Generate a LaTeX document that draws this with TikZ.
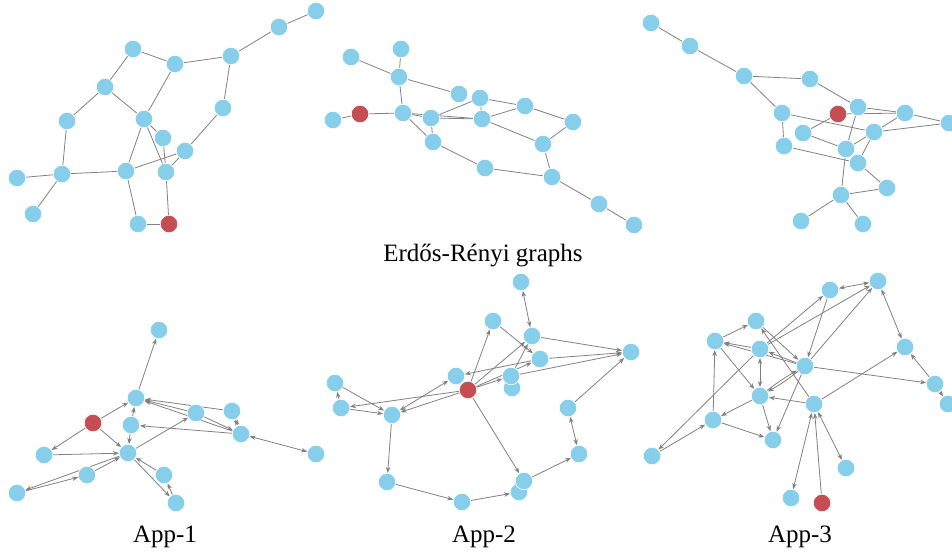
\documentclass[tikz,border=0pt]{standalone}
\usepackage{fontspec}
\setmainfont{Liberation Serif}
\usetikzlibrary{arrows.meta}
\pgfdeclarelayer{bg}
\pgfsetlayers{bg,main}
\definecolor{skyblue}{RGB}{135,206,235}
\definecolor{rootred}{RGB}{196,78,82}
\definecolor{edgegray}{RGB}{128,128,128}

\tikzset{
  vtx/.style={circle, fill=skyblue, draw=white, line width=0.6pt, minimum size=17.5pt, inner sep=0pt},
  root/.style={vtx, fill=rootred},
  edge/.style={draw=edgegray, line width=0.8pt},
  arc/.style={edge, -{Stealth[length=6pt,width=4.5pt]}},
  arcs/.style={edge, {Stealth[length=6pt,width=4.5pt]}-{Stealth[length=6pt,width=4.5pt]}},
  caption/.style={anchor=base, font=\fontsize{25}{28}\selectfont, inner sep=0pt}
}

\begin{document}
\begin{tikzpicture}[x=1pt,y=-1pt]
\useasboundingbox (0,0) rectangle (952,552);

% Erdos-Renyi graphs (top row)
\foreach \n/\x/\y in {a1/316/11, a2/279/27, a3/231/56, a4/133/49, a5/175/64, a6/105/87,
  a7/223/108, a8/67/121, a9/144/119, a10/163/138, a11/185/151, a12/62/174,
  a13/126/171, a14/166/172, a15/17/178, a16/33/214, a17/138/224}
  \node[vtx] (\n) at (\x,\y) {};
\node[root] (a18) at (169,224) {};

\foreach \n/\x/\y in {b1/351/57, b2/401/49, b3/399/77, b4/459/94, b5/480/98, b6/525/106,
  b7/573/122, b8/333/120, b10/403/113, b11/431/118, b12/482/119, b13/433/142,
  b14/543/144, b15/485/168, b16/552/177, b17/599/204, b18/634/225}
  \node[vtx] (\n) at (\x,\y) {};
\node[root] (b9) at (360,114) {};

\foreach \n/\x/\y in {c1/651/23, c2/690/46, c3/744/76, c4/810/79, c5/782/113, c6/858/107,
  c8/905/113, c9/949/123, c10/803/133, c11/874/132, c12/784/146, c13/846/149,
  c14/858/163, c15/887/188, c16/841/195, c17/801/221, c18/863/224}
  \node[vtx] (\n) at (\x,\y) {};
\node[root] (c7) at (838,114) {};

\begin{pgfonlayer}{bg}
\foreach \u/\v in {a1/a2, a2/a3, a3/a5, a4/a5, a4/a6, a6/a8, a6/a9, a5/a9, a3/a7, a7/a11,
  a8/a12, a12/a15, a12/a16, a12/a13, a13/a11, a13/a9, a9/a10, a9/a14, a10/a14,
  a14/a11, a14/a18, a13/a17, a17/a18}
  \draw[edge] (\u) -- (\v);
\foreach \u/\v in {b1/b3, b2/b3, b3/b4, b3/b10, b8/b9, b9/b10, b10/b11, b10/b12, b11/b12,
  b10/b13, b11/b13, b11/b5, b5/b12, b5/b6, b12/b6, b6/b7, b7/b14, b12/b14,
  b14/b16, b13/b15, b15/b16, b16/b17, b17/b18}
  \draw[edge] (\u) -- (\v);
\foreach \u/\v in {c1/c2, c2/c3, c3/c4, c3/c5, c4/c6, c6/c8, c7/c8, c7/c10, c5/c11, c5/c12,
  c12/c14, c10/c13, c13/c11, c11/c8, c11/c9, c8/c9, c6/c13, c11/c14, c14/c15,
  c13/c16, c16/c15, c16/c17, c16/c18}
  \draw[edge] (\u) -- (\v);
\end{pgfonlayer}

% App-1
\foreach \n/\x/\y in {d1/159/330, d2/136/398, d4/131/425, d5/196/413, d6/232/411, d7/241/434,
  d8/44/455, d9/128/453, d10/316/454, d11/87/475, d12/164/475, d13/17/493, d14/176/503}
  \node[vtx] (\n) at (\x,\y) {};
\node[root] (d3) at (93,423) {};

% App-2
\node[vtx] (e8) at (512,388) {};
\node[vtx] (e16) at (519,492) {};
\foreach \n/\x/\y in {e1/521/282, e2/493/321, e3/532/336, e4/631/352, e5/540/359, e6/335/383,
  e7/456/376, e9/511/376, e11/341/408, e12/392/415, e13/568/408, e14/579/454,
  e15/387/482, e17/524/481, e18/462/502}
  \node[vtx] (\n) at (\x,\y) {};
\node[root] (e10) at (468,390) {};

% App-3
\foreach \n/\x/\y in {f1/878/281, f2/830/290, f3/756/321, f4/715/341, f5/760/349, f6/905/347,
  f7/805/366, f8/935/384, f9/948/404, f10/760/396, f11/814/404, f12/713/420,
  f13/773/440, f14/652/456, f15/846/468, f16/791/498}
  \node[vtx] (\n) at (\x,\y) {};
\node[root] (f17) at (822,503) {};

\begin{pgfonlayer}{bg}
\foreach \u/\v in {d2/d1, d3/d2, d3/d8, d3/d9, d4/d2, d4/d9, d5/d2, d6/d2, d7/d2, d5/d7,
  d7/d4, d8/d9, d9/d5, d11/d9, d13/d11, d9/d13, d12/d9, d9/d14, d14/d12}
  \draw[arc] (\u) -- (\v);
\foreach \u/\v in {d6/d7, d7/d10}
  \draw[arcs] (\u) -- (\v);
\foreach \u/\v in {e2/e5, e3/e4, e5/e4, e9/e4, e10/e2, e10/e3, e10/e5, e10/e9, e5/e7, e9/e3,
  e10/e17, e10/e12, e10/e11, e6/e12, e11/e6, e11/e12, e12/e15, e15/e18, e18/e16,
  e17/e14, e13/e4}
  \draw[arc] (\u) -- (\v);
\foreach \u/\v in {e1/e3, e14/e13, e12/e7}
  \draw[arcs] (\u) -- (\v);
\foreach \u/\v in {f2/f7, f7/f1, f5/f2, f5/f1, f4/f3, f3/f7, f11/f3, f7/f4, f5/f4, f4/f10,
  f7/f5, f11/f10, f11/f6, f7/f8, f8/f6, f8/f9, f10/f12, f7/f13, f12/f13, f12/f4,
  f14/f12, f5/f14, f10/f13, f17/f11}
  \draw[arc] (\u) -- (\v);
\draw[arc] (f10) to[bend left=4] (f7);
\draw[arc] (f7) to[bend left=4] (f10);
\foreach \u/\v in {f2/f1, f1/f6, f5/f10, f11/f16, f11/f15}
  \draw[arcs] (\u) -- (\v);
\end{pgfonlayer}

% captions
\node[caption] (ertext) at (483,261) {Erdős-Rényi graphs};
\node[caption] (app1) at (165,542) {App-1};
\node[caption] (app2) at (484,542) {App-2};
\node[caption] (app3) at (800,542) {App-3};
\end{tikzpicture}
\end{document}
